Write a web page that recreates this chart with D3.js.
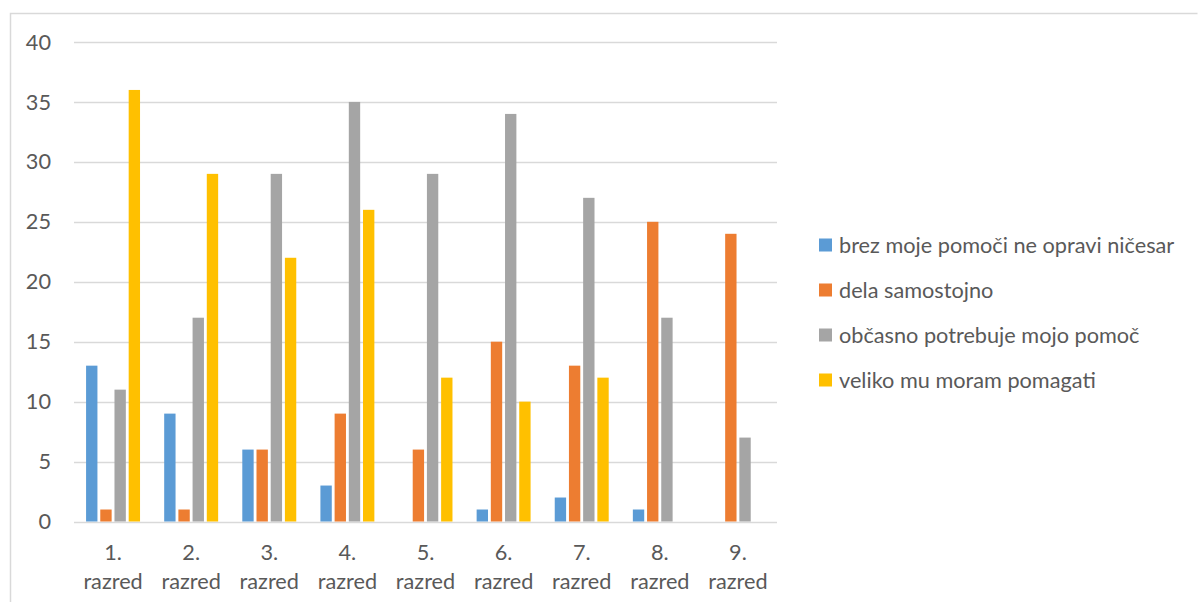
<!DOCTYPE html>
<meta charset="utf-8">
<style>
body { margin: 0; background: #fff; }
text { font-family: Lato, "Open Sans", sans-serif; fill: #595959; }
</style>
<svg width="1198" height="602"></svg>
<script src="https://cdn.jsdelivr.net/npm/d3@7"></script>
<script>

var categories = ["1. razred", "2. razred", "3. razred", "4. razred", "5. razred", "6. razred", "7. razred", "8. razred", "9. razred"];
var seriesNames = ["brez moje pomoči ne opravi ničesar", "dela samostojno", "občasno potrebuje mojo pomoč", "veliko mu moram pomagati"];
var seriesColors = ["#5B9BD5", "#ED7D31", "#A5A5A5", "#FFC000"];
var brez = [13, 9, 6, 3, 0, 1, 2, 1, 0];
var samostojno = [1, 1, 6, 9, 6, 15, 13, 25, 24];
var obcasno = [11, 17, 29, 35, 29, 34, 27, 17, 7];
var veliko = [36, 29, 22, 26, 12, 10, 12, 0, 0];
var yTicks = [0, 5, 10, 15, 20, 25, 30, 35, 40];

var values = [brez, samostojno, obcasno, veliko];
var fontSize = 21.7;

var svg = d3.select("svg");

// chart border (Excel style)
svg.append("path")
    .attr("d", "M10.5,602 V13.5 H1197.5")
    .attr("fill", "none")
    .attr("stroke", "#d9d9d9")
    .attr("stroke-width", 1.5);

var x = d3.scaleBand()
    .domain(categories)
    .range([74, 777]);

var x1 = d3.scaleBand()
    .domain(d3.range(seriesNames.length))
    .range([-28.4, 28.4])
    .paddingInner(0.2)
    .paddingOuter(0.1);

var y = d3.scaleLinear()
    .domain([0, 40])
    .range([521.5, 42]);

// gridlines
svg.append("g")
  .selectAll("line")
  .data(yTicks)
  .enter().append("line")
    .attr("x1", 74)
    .attr("x2", 777)
    .attr("y1", function(d) { return Math.round(y(d)) + 0.5; })
    .attr("y2", function(d) { return Math.round(y(d)) + 0.5; })
    .attr("stroke", "#d9d9d9")
    .attr("stroke-width", 1.5);

// y labels
svg.append("g")
  .selectAll("text")
  .data(yTicks)
  .enter().append("text")
    .attr("x", 51)
    .attr("y", function(d) { return y(d); })
    .attr("dy", "0.35em")
    .attr("text-anchor", "end")
    .attr("font-size", fontSize)
    .text(function(d) { return d; });

// bars
var group = svg.append("g")
  .selectAll("g")
  .data(categories)
  .enter().append("g")
    .attr("transform", function(d) { return "translate(" + (x(d) + x.bandwidth() / 2) + ",0)"; });

group.selectAll("rect")
  .data(function(d, i) {
    return values.map(function(s, j) { return {s: j, v: s[i]}; })
      .filter(function(d) { return d.v > 0; });
  })
  .enter().append("rect")
    .attr("x", function(d) { return x1(d.s); })
    .attr("width", x1.bandwidth())
    .attr("y", function(d) { return y(d.v); })
    .attr("height", function(d) { return y(0) - y(d.v); })
    .attr("fill", function(d) { return seriesColors[d.s]; });

// x labels
var xl = svg.append("g")
  .selectAll("text")
  .data(categories)
  .enter().append("text")
    .attr("text-anchor", "middle")
    .attr("font-size", fontSize)
    .attr("transform", function(d) { return "translate(" + (x(d) + x.bandwidth() / 2) + ",0)"; });

xl.append("tspan")
    .attr("x", 0)
    .attr("y", 560)
    .text(function(d) { return d.split(" ")[0]; });

xl.append("tspan")
    .attr("x", 0)
    .attr("y", 589)
    .text(function(d) { return d.split(" ")[1]; });

// legend
var legend = svg.append("g")
  .selectAll("g")
  .data(seriesNames)
  .enter().append("g")
    .attr("transform", function(d, i) { return "translate(819," + (245 + i * 45) + ")"; });

legend.append("rect")
    .attr("x", 0)
    .attr("y", -6.5)
    .attr("width", 13)
    .attr("height", 13)
    .attr("fill", function(d, i) { return seriesColors[i]; });

legend.append("text")
    .attr("x", 20)
    .attr("y", 0)
    .attr("dy", "0.35em")
    .attr("font-size", fontSize)
    .text(function(d) { return d; });

</script>
